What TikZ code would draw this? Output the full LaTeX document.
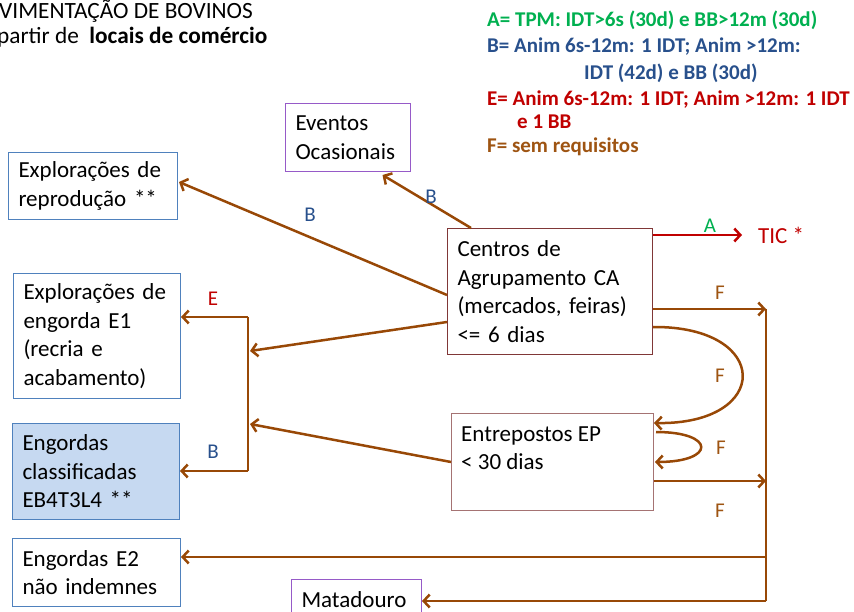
\documentclass[tikz,border=0pt]{standalone}
\usepackage{fontspec}
\setmainfont{Carlito}
\usetikzlibrary{arrows.meta,calc}
\definecolor{brn}{RGB}{152,72,6}
\definecolor{brntxt}{RGB}{158,84,18}
\definecolor{bxblue}{RGB}{79,129,189}
\definecolor{ecfill}{RGB}{198,217,241}
\definecolor{purp}{RGB}{150,90,200}
\definecolor{cabrd}{RGB}{128,55,55}
\definecolor{epbrd}{RGB}{165,115,115}
\definecolor{tred}{RGB}{192,0,0}
\definecolor{tgreen}{RGB}{0,176,80}
\definecolor{tblue}{RGB}{40,80,140}
\newcommand\mainsz{\fontsize{23}{28.5}\selectfont}
\newcommand\labsz{\fontsize{21}{25}\selectfont}
\newcommand\legsz{\fontsize{21}{26}\selectfont\bfseries}
\begin{document}
\begin{tikzpicture}[x=1pt,y=-1pt,
  box/.style={draw, line width=1pt, anchor=north west, align=left, inner xsep=10pt, inner ysep=0pt, font=\mainsz},
  txt/.style={inner sep=0pt, align=left, font=\mainsz},
  lab/.style={inner sep=0pt, font=\labsz},
  leg/.style={inner sep=0pt, anchor=base west, font=\legsz},
  arr/.style={draw=brn, line width=2.5pt, -{Straight Barb[length=6pt,width=13pt,line width=2.5pt]}},
  ln/.style={draw=brn, line width=2.5pt}]
\useasboundingbox (0,0) rectangle (854,612);
\clip (0,0) rectangle (854,612);

% title
\node[inner sep=0pt, anchor=base west, font=\fontsize{23.3}{27}\selectfont] (t1) at (-1,19) {VIMENTAÇÃO DE BOVINOS};
\node[inner sep=0pt, anchor=base west, font=\fontsize{23.3}{27}\selectfont] (t2) at (-3,44) {partir de~~\textbf{locais de comércio}};

% legend
\node[leg, text=tgreen] (la) at (487,27) {A= TPM: IDT>6s (30d) e BB>12m (30d)};
\node[leg, text=tblue] (lb1) at (487,53) {B= Anim 6s-12m: 1 IDT; Anim >12m:};
\node[leg, text=tblue] (lb2) at (584,80) {IDT (42d) e BB (30d)};
\node[leg, text=tred] (le1) at (487,106) {E= Anim 6s-12m: 1 IDT; Anim >12m: 1 IDT};
\node[leg, text=tred] (le2) at (517,129) {e 1 BB};
\node[leg, text=brntxt] (lf) at (487,153) {F= sem requisitos};

% boxes
\node[box, draw=bxblue, text width=149pt, minimum height=67pt] (repro) at (8,152) {Explorações de\\reprodução **};
\node[box, draw=purp, text width=105pt, minimum height=68pt] (evt) at (285,103) {Eventos\\Ocasionais};
\node[box, draw=cabrd, text width=185pt, minimum height=126pt] (ca) at (447,228) {Centros de\\Agrupamento CA\\(mercados, feiras)\\<= 6 dias};
\node[box, draw=epbrd, minimum width=202pt, minimum height=97pt] (ep) at (451,413) {};
\node[txt, anchor=north west] (eptxt) at (461,426.5) {Entrepostos EP\\< 30 dias};
\node[box, draw=bxblue, text width=147pt, minimum height=125pt] (e1) at (13,273) {Explorações de\\engorda E1\\(recria e\\acabamento)};
\node[box, draw=bxblue, fill=ecfill, text width=147pt, minimum height=96pt] (ec) at (12,423) {Engordas\\classificadas\\EB4T3L4 **};
\node[box, draw=bxblue, text width=148pt, minimum height=68pt] (e2) at (12,538) {Engordas E2\\não indemnes};
\node[box, draw=purp, text width=110pt, minimum height=40pt] (mat) at (291,579) {Matadouro};
\node[lab, anchor=west, text=tred, font=\fontsize{23}{27}\selectfont] (tic) at (758,235) {TIC *};

% coordinates
\coordinate (bt) at (248,317);
\coordinate (bb) at (248,471);
\coordinate (vt) at (766,309);
\coordinate (vb) at (766,601);
\coordinate (ticend) at (742,235);

% connectors
\draw[arr] ($(ca.north west)+(0,67)$) -- ($(repro.east)+(1,-4)$);
\draw[arr] ($(ca.north west)+(24,0)$) -- ($(evt.south)+(34.5,3)$);
\draw[arr] ($(ca.north west)+(0,94)$) -- (250,351);
\draw[arr] ($(ep.north west)+(0,49)$) -- (250,424);
\draw[ln] (bt) -- (bb);
\draw[arr] (bt) -- (e1.east |- bt);
\draw[arr] (bb) -- (ec.east |- bb);

\draw[draw=tred, line width=2.5pt, -{Straight Barb[length=6pt,width=13pt,line width=2.5pt]}] (ca.east |- ticend) -- (ticend);
\draw[arr] (ca.east |- vt) -- (vt);
\draw[ln] (vt) -- (vb);
\draw[arr] (ep.east |- 0,481) -- (766,481);
\draw[arr] (766,557) -- (e2.east |- 0,557);
\draw[arr] (vb) -- (mat.east |- vb);

% curves
\draw[arr] ($(ca.south east)+(0,-28)$) .. controls (772,326) and (772,425) .. ($(ep.north east)+(0,10)$);
\draw[arr] ($(ep.north east)+(2,19)$) .. controls (716,432) and (716,462) .. ($(ep.north east)+(1,49)$);

% labels
\node[lab, text=tblue] (lb_r) at (310,215) {B};
\node[lab, text=tblue] (lb_e) at (431,197) {B};
\node[lab, text=tred] (lb_e1) at (213,299) {E};
\node[lab, text=tblue] (lb_ec) at (213,452) {B};
\node[lab, text=tgreen] (lb_a) at (710,226) {A};
\node[lab, text=brntxt] (lf1) at (720,293) {F};
\node[lab, text=brntxt] (lf2) at (720,376) {F};
\node[lab, text=brntxt] (lf3) at (721,448) {F};
\node[lab, text=brntxt] (lf4) at (720,511) {F};
\end{tikzpicture}
\end{document}
